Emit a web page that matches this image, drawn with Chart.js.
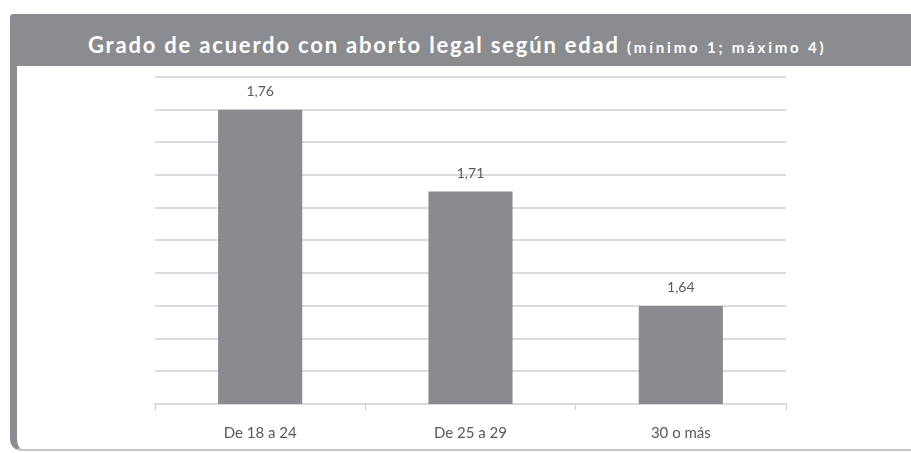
<!DOCTYPE html>
<html>
<head>
<meta charset="utf-8">
<script src="https://cdn.jsdelivr.net/npm/chart.js@4.4.0/dist/chart.umd.min.js"></script>
<style>
  html, body { margin: 0; padding: 0; background: #fff; }
  body { width: 911px; height: 453px; position: relative; overflow: hidden; }
  .card {
    position: absolute; left: 10px; top: 14px; width: 920px; height: 437px;
    background: #fff; border-left: 7px solid #8b8c90; border-bottom: 2px solid #c4c4c6;
    border-radius: 4px 0 0 12px; box-sizing: border-box;
  }
  .head {
    position: absolute; left: 10px; top: 14px; width: 920px; height: 52px;
    background: #8b8c90; border-radius: 4px 0 0 0;
    color: #fff; font-family: Lato, sans-serif; font-weight: bold;
    white-space: nowrap;
  }
  .head .big { position: absolute; left: 78px; top: 20px; font-size: 22px; line-height: 22px; letter-spacing: 1.8px; }
  .head .small { font-size: 15px; letter-spacing: 2.8px; }
  #wrap { position: absolute; left: 17px; top: 66px; width: 894px; height: 390px; }
</style>
</head>
<body>
<div class="card"></div>
<div class="head"><span class="big">Grado de acuerdo con aborto legal según edad <span class="small">(mínimo 1; máximo 4)</span></span></div>
<div id="wrap"><canvas id="myChart"></canvas></div>
<script>
// Datos
var categorias = ['De 18 a 24', 'De 25 a 29', '30 o más'];
var valores = [1.76, 1.71, 1.64];
var ejeMin = 1.58;
var ejeMax = 1.78;
var paso = 0.02;

// etiquetas sobre las barras, con coma decimal
var etiquetasValor = {
  id: 'etiquetasValor',
  afterDatasetsDraw: function(chart) {
    var ctx = chart.ctx;
    var meta = chart.getDatasetMeta(0);
    ctx.save();
    ctx.font = '14px Lato, sans-serif';
    ctx.fillStyle = '#595959';
    ctx.textAlign = 'center';
    ctx.textBaseline = 'middle';
    meta.data.forEach(function(bar, i) {
      ctx.fillText(valores[i].toFixed(2).replace('.', ','), bar.x, bar.y - 18);
    });
    ctx.restore();
  }
};

var ctx = document.getElementById('myChart').getContext('2d');
var myChart = new Chart(ctx, {
  type: 'bar',
  data: {
    labels: categorias,
    datasets: [{
      data: valores,
      backgroundColor: '#8a8b8f',
      borderWidth: 0,
      categoryPercentage: 1,
      barPercentage: 0.4
    }]
  },
  options: {
    responsive: true,
    maintainAspectRatio: false,
    animation: false,
    layout: { padding: { left: 138, right: 125, top: 11, bottom: 0 } },
    plugins: {
      legend: { display: false },
      tooltip: { enabled: false }
    },
    scales: {
      x: {
        grid: { offset: true, drawOnChartArea: false, drawTicks: true, tickLength: 6, color: '#d0d0d0' },
        border: { display: true, color: '#d9d9d9', width: 2 },
        ticks: { color: '#595959', font: { family: 'Lato, sans-serif', size: 15 }, padding: 14 }
      },
      y: {
        min: ejeMin,
        max: ejeMax,
        grid: { color: '#dcdcdc', lineWidth: 2, drawTicks: false },
        border: { display: false },
        ticks: { display: false, stepSize: paso }
      }
    }
  },
  plugins: [etiquetasValor]
});
</script>
</body>
</html>
